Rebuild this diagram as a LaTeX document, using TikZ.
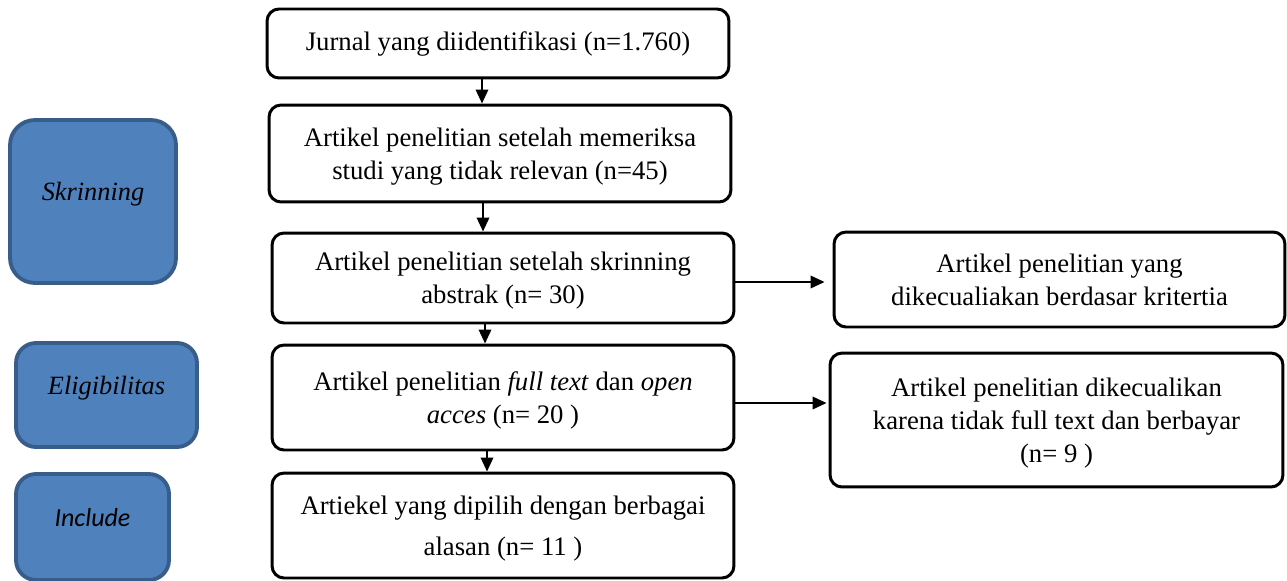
\documentclass[tikz,border=0pt]{standalone}
\usepackage{fontspec}
\setmainfont{Liberation Serif}
\newfontfamily\calfont{Carlito}
\usetikzlibrary{arrows.meta}
\definecolor{fasebiru}{HTML}{4F81BD}
\definecolor{garisbiru}{HTML}{385D8A}

\begin{document}
\begin{tikzpicture}[x=0.02cm, y=-0.02cm, >={Triangle[length=0.28cm,width=0.25cm]},
  kotak/.style={draw, line width=1.7pt, rounded corners=0.24cm, align=center, inner sep=0pt,
    font=\fontsize{15.2}{18.8}\selectfont},
  fase/.style={draw=garisbiru, fill=fasebiru, line width=2.2pt, rounded corners=0.4cm, inner sep=0pt,
    text depth=0.4cm, font=\fontsize{15}{17}\selectfont\itshape},
  panah/.style={->, line width=1.1pt}]
\useasboundingbox (0,0) rectangle (1287,581);

% alur utama
\node[kotak, minimum width=9.24cm, minimum height=1.38cm] (jurnal) at (498,43.5) {Jurnal yang diidentifikasi (n=1.760)};
\node[kotak, minimum width=9.24cm, minimum height=1.94cm, text depth=-1pt] (relevan) at (500,153.5) {Artikel penelitian setelah memeriksa\\studi yang tidak relevan (n=45)};
\node[kotak, minimum width=9.24cm, minimum height=1.8cm, text depth=-3.3pt] (abstrak) at (503,278) {Artikel penelitian setelah skrinning\\abstrak (n= 30)};
\node[kotak, minimum width=9.24cm, minimum height=2.1cm, text depth=-5.6pt] (fulltext) at (503,397.5) {Artikel penelitian \textit{full text} dan \textit{open}\\\textit{acces} (n= 20 )};
\node[kotak, minimum width=9.24cm, minimum height=2.1cm, text depth=0pt, font=\fontsize{15.2}{23.2}\selectfont] (dipilih) at (503,525.5) {Artiekel yang dipilih dengan berbagai\\alasan (n= 11 )};

% artikel yang dikecualikan
\node[kotak, minimum width=9.02cm, minimum height=1.9cm] (kriteria) at (1059.5,279.5) {Artikel penelitian yang\\dikecualiakan berdasar kritertia};
\node[kotak, minimum width=9.06cm, minimum height=2.68cm, text depth=-2.2pt] (berbayar) at (1056.5,420) {Artikel penelitian dikecualikan\\karena tidak full text dan berbayar\\(n= 9 )};

% tahapan
\node[fase, minimum width=3.32cm, minimum height=3.26cm, rounded corners=0.5cm] (skrin) at (93,201.5) {Skrinning};
\node[fase, minimum width=3.62cm, minimum height=2.08cm] (elig) at (106.5,395) {Eligibilitas};
\node[fase, minimum width=3.06cm, minimum height=2.12cm, font=\fontsize{14.8}{17}\selectfont\calfont\itshape] (incl) at (92.5,527) {Include};

\draw[panah] ([xshift=-0.32cm]jurnal.south) -- ([xshift=-0.32cm]jurnal.south |- relevan.north);
\draw[panah] ([xshift=-0.34cm]relevan.south) -- ([xshift=-0.34cm]relevan.south |- abstrak.north);
\draw[panah] ([xshift=-0.36cm]abstrak.south) -- ([xshift=-0.36cm]abstrak.south |- fulltext.north);
\draw[panah] ([xshift=-0.32cm]fulltext.south) -- ([xshift=-0.32cm]fulltext.south |- dipilih.north);

\draw[panah, shorten >=0.16cm] ([yshift=-0.08cm]abstrak.east) -- ([yshift=-0.08cm]abstrak.east -| kriteria.west);
\draw[panah, shorten >=0.04cm] ([yshift=-0.11cm]fulltext.east) -- ([yshift=-0.11cm]fulltext.east -| berbayar.west);
\end{tikzpicture}
\end{document}
